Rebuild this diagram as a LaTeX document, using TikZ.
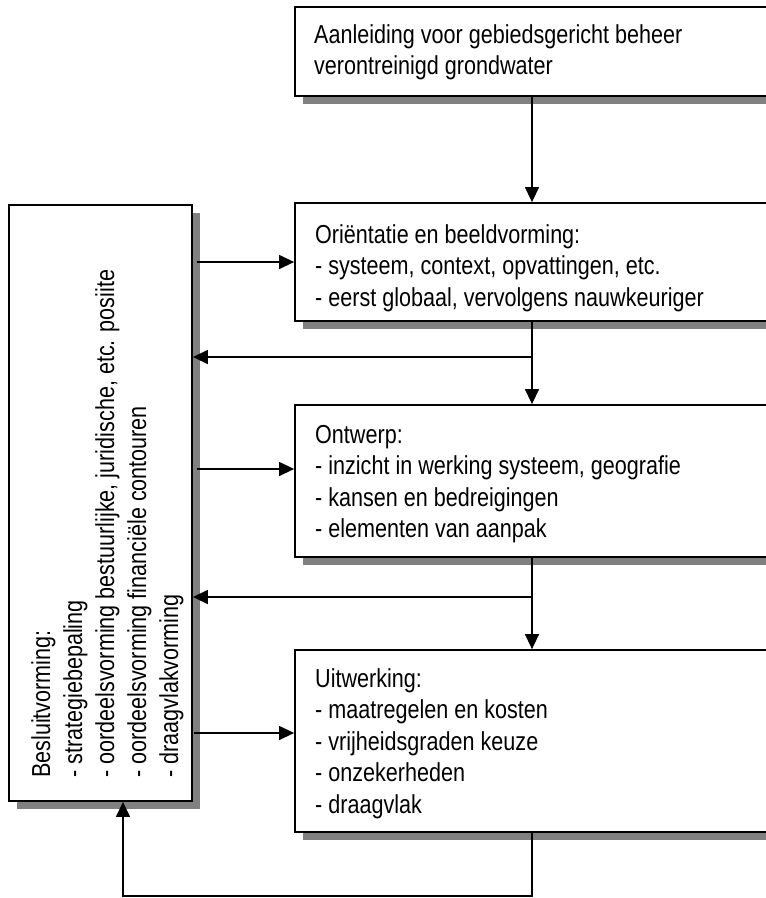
\documentclass[tikz,border=0pt]{standalone}
\usepackage{fontspec}
\setmainfont{Liberation Sans}[FakeStretch=0.83]
\usetikzlibrary{arrows.meta,shadows}
\begin{document}
\begin{tikzpicture}[x=1pt,y=1pt,
  box/.style={draw=black, line width=1.8pt, fill=white, rectangle, inner sep=0pt,
    drop shadow={opacity=1, fill=black!50, shadow xshift=8pt, shadow yshift=-8pt}},
  txt/.style={anchor=north west, inner sep=0pt, align=left, text=black,
    font=\fontsize{26}{31.5}\selectfont},
  conn/.style={line width=1.4pt},
  arr/.style={conn, -{Triangle[length=15pt,width=14pt]}}]
\useasboundingbox (0,0) rectangle (766,-898);
\clip (0,0) rectangle (766,-898);
% boxes
\node[box, minimum width=485pt, minimum height=89pt] (top) at (537.5,-51.5) {};
\node[box, minimum width=485pt, minimum height=118pt] (orient) at (537.5,-262) {};
\node[box, minimum width=485pt, minimum height=152pt] (ontw) at (537.5,-481) {};
\node[box, minimum width=485pt, minimum height=182pt] (uitw) at (537.5,-741) {};
\node[box, minimum width=183pt, minimum height=596pt] (left) at (100.5,-503) {};
% texts
\node[txt] (toptxt) at (314,-20) {\rule{0pt}{23pt}Aanleiding voor gebiedsgericht beheer\\verontreinigd grondwater};
\node[txt] (orienttxt) at (315,-220) {\rule{0pt}{23pt}Oriëntatie en beeldvorming:\\- systeem, context, opvattingen, etc.\\- eerst globaal, vervolgens nauwkeuriger};
\node[txt] (ontwtxt) at (315,-420) {\rule{0pt}{23pt}Ontwerp:\\- inzicht in werking systeem, geografie\\- kansen en bedreigingen\\- elementen van aanpak};
\node[txt] (uitwtxt) at (315,-664) {\rule{0pt}{23pt}Uitwerking:\\- maatregelen en kosten\\- vrijheidsgraden keuze\\- onzekerheden\\- draagvlak};
\node[txt, rotate=90, font=\fontsize{26}{32}\selectfont] (lefttxt) at (27,-778) {\rule{0pt}{23pt}Besluitvorming:\\- strategiebepaling\\- oordeelsvorming bestuurlijke, juridische, etc. posiite\\- oordeelsvorming financiële contouren\\- draagvlakvorming};
% connector helpers
\coordinate (vx) at (532,0);
\coordinate (h1) at (0,-357);
\coordinate (h2) at (0,-597);
\coordinate (a1) at (197,-262);
\coordinate (a2) at (197,-469);
\coordinate (a3) at (194,-733);
\coordinate (lb) at (0,-896);
\coordinate (lx) at (123,0);
% connectors
\draw[arr] (top.south -| vx) -- (orient.north -| vx);
\draw[arr] (orient.south -| vx) -- (ontw.north -| vx);
\draw[arr] (ontw.south -| vx) -- (uitw.north -| vx);
\draw[arr] (vx |- h1) -- (left.east |- h1);
\draw[arr] (vx |- h2) -- (left.east |- h2);
\draw[arr] (a1) -- (orient.west |- a1);
\draw[arr] (a2) -- (ontw.west |- a2);
\draw[arr] (a3) -- (uitw.west |- a3);
\draw[arr] (uitw.south -| vx) -- (vx |- lb) -- (lx |- lb) -- (lx |- left.south);
\end{tikzpicture}
\end{document}
